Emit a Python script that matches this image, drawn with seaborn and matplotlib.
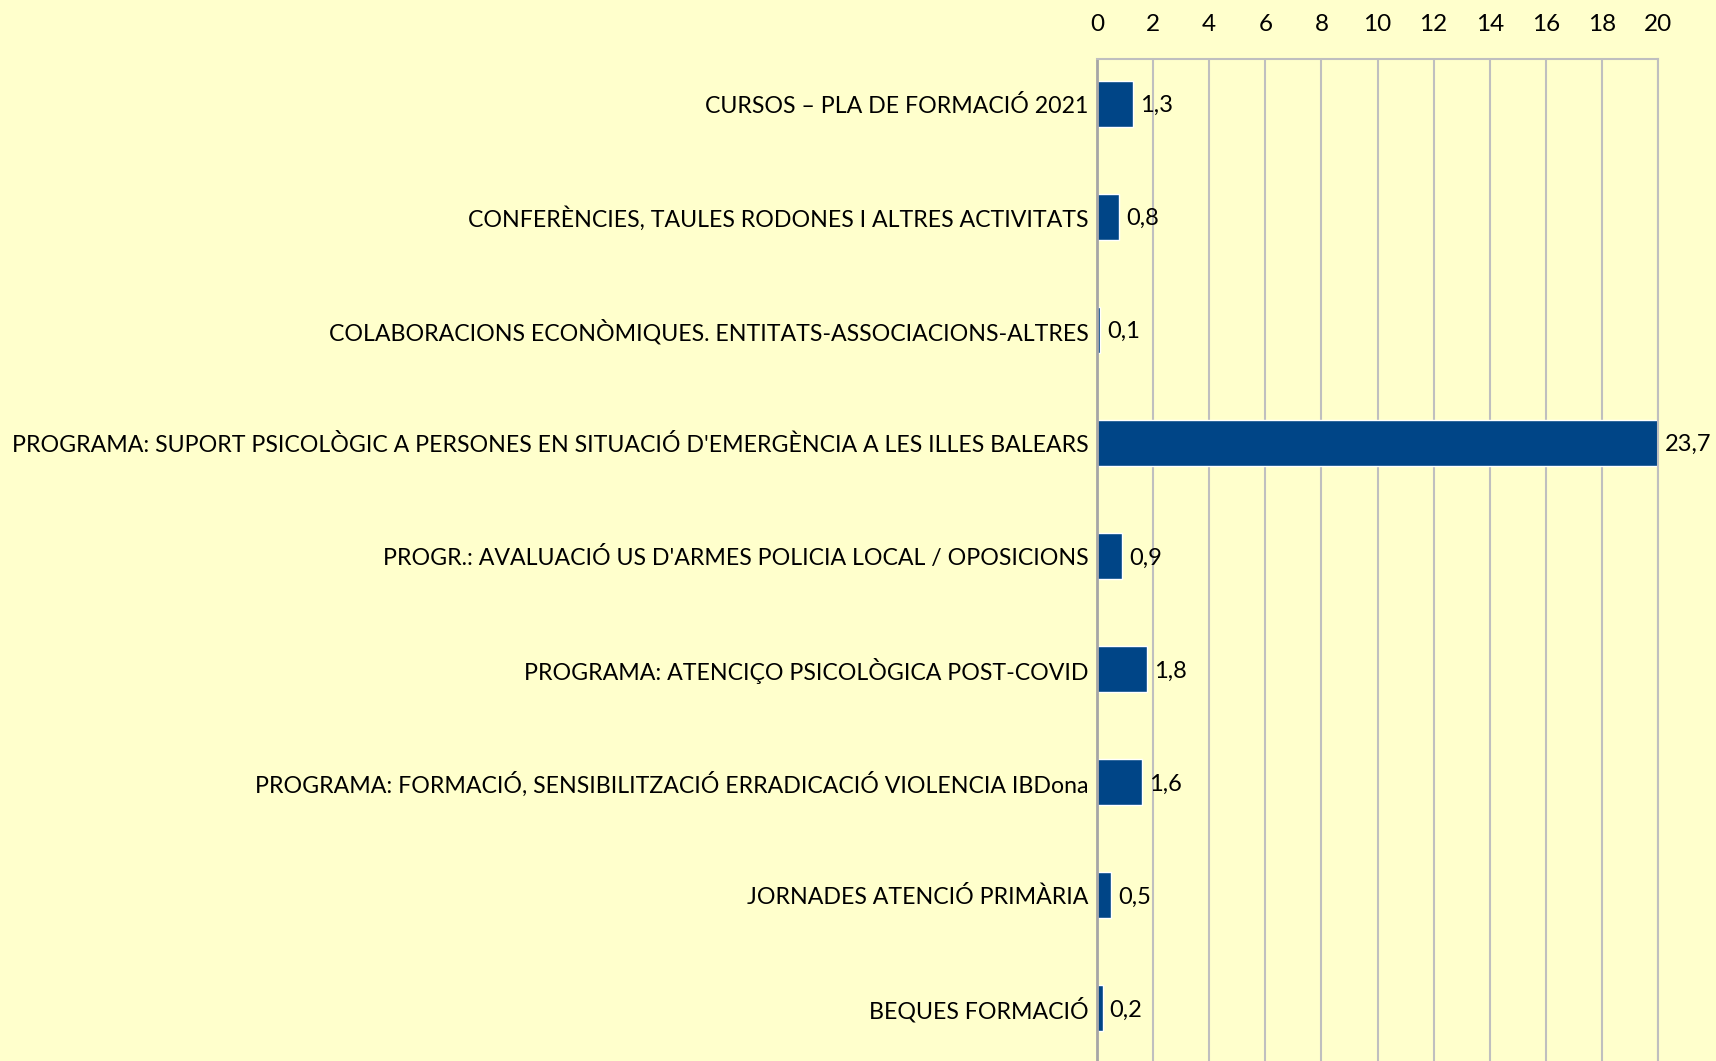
import matplotlib
matplotlib.use("Agg")
import matplotlib.pyplot as plt
import seaborn as sns
import pandas as pd

categories = [
    "CURSOS – PLA DE FORMACIÓ 2021",
    "CONFERÈNCIES, TAULES RODONES I ALTRES ACTIVITATS",
    "COLABORACIONS ECONÒMIQUES. ENTITATS-ASSOCIACIONS-ALTRES",
    "PROGRAMA: SUPORT PSICOLÒGIC A PERSONES EN SITUACIÓ D'EMERGÈNCIA A LES ILLES BALEARS",
    "PROGR.: AVALUACIÓ US D'ARMES POLICIA LOCAL / OPOSICIONS",
    "PROGRAMA: ATENCIÇO PSICOLÒGICA POST-COVID",
    "PROGRAMA: FORMACIÓ, SENSIBILITZACIÓ ERRADICACIÓ VIOLENCIA IBDona",
    "JORNADES ATENCIÓ PRIMÀRIA",
    "BEQUES FORMACIÓ",
]
values = [1.3, 0.8, 0.1, 23.7, 0.9, 1.8, 1.6, 0.5, 0.2]
x_ticks = list(range(0, 21, 2))

BG = "#FFFFCC"
BAR = "#004587"
GRID = "#BFBFBF"

df = pd.DataFrame({"cat": categories, "val": values})

sns.set_theme(style="white")
plt.rcParams["font.family"] = ["Lato", "DejaVu Sans"]

fig = plt.figure(figsize=(17.16, 10.61), dpi=100, facecolor=BG)
ax = fig.add_axes([1097 / 1716, 0.0, (1658 - 1097) / 1716, (1061 - 58.6) / 1061])
ax.set_facecolor(BG)

sns.barplot(data=df, x="val", y="cat", color=BAR, width=0.41, ax=ax, saturation=1)

ax.set_xlim(0, 20)
ax.set_ylim(8.47, -0.4)
ax.set_xticks(x_ticks)
ax.xaxis.tick_top()
ax.tick_params(axis="x", length=0, pad=17, labelsize=17.5, colors="black")
ax.tick_params(axis="y", length=0, pad=6, labelsize=16.7, colors="black")
ax.set_xlabel("")
ax.set_ylabel("")
ax.grid(axis="x", color=GRID, linewidth=1.5)
ax.set_axisbelow(True)

for s in ["top", "right"]:
    ax.spines[s].set_color(GRID)
    ax.spines[s].set_linewidth(1.5)
ax.spines["left"].set_color("#A6A6A6")
ax.spines["left"].set_linewidth(2)
ax.spines["bottom"].set_visible(False)

for i, v in enumerate(values):
    ax.annotate(f"{v:.1f}".replace(".", ","), xy=(min(v, 20), i),
                xytext=(7, -2), textcoords="offset pixels",
                va="center", ha="left", fontsize=17, color="black",
                annotation_clip=False)

fig.savefig("out.png", dpi=100, facecolor=BG)
